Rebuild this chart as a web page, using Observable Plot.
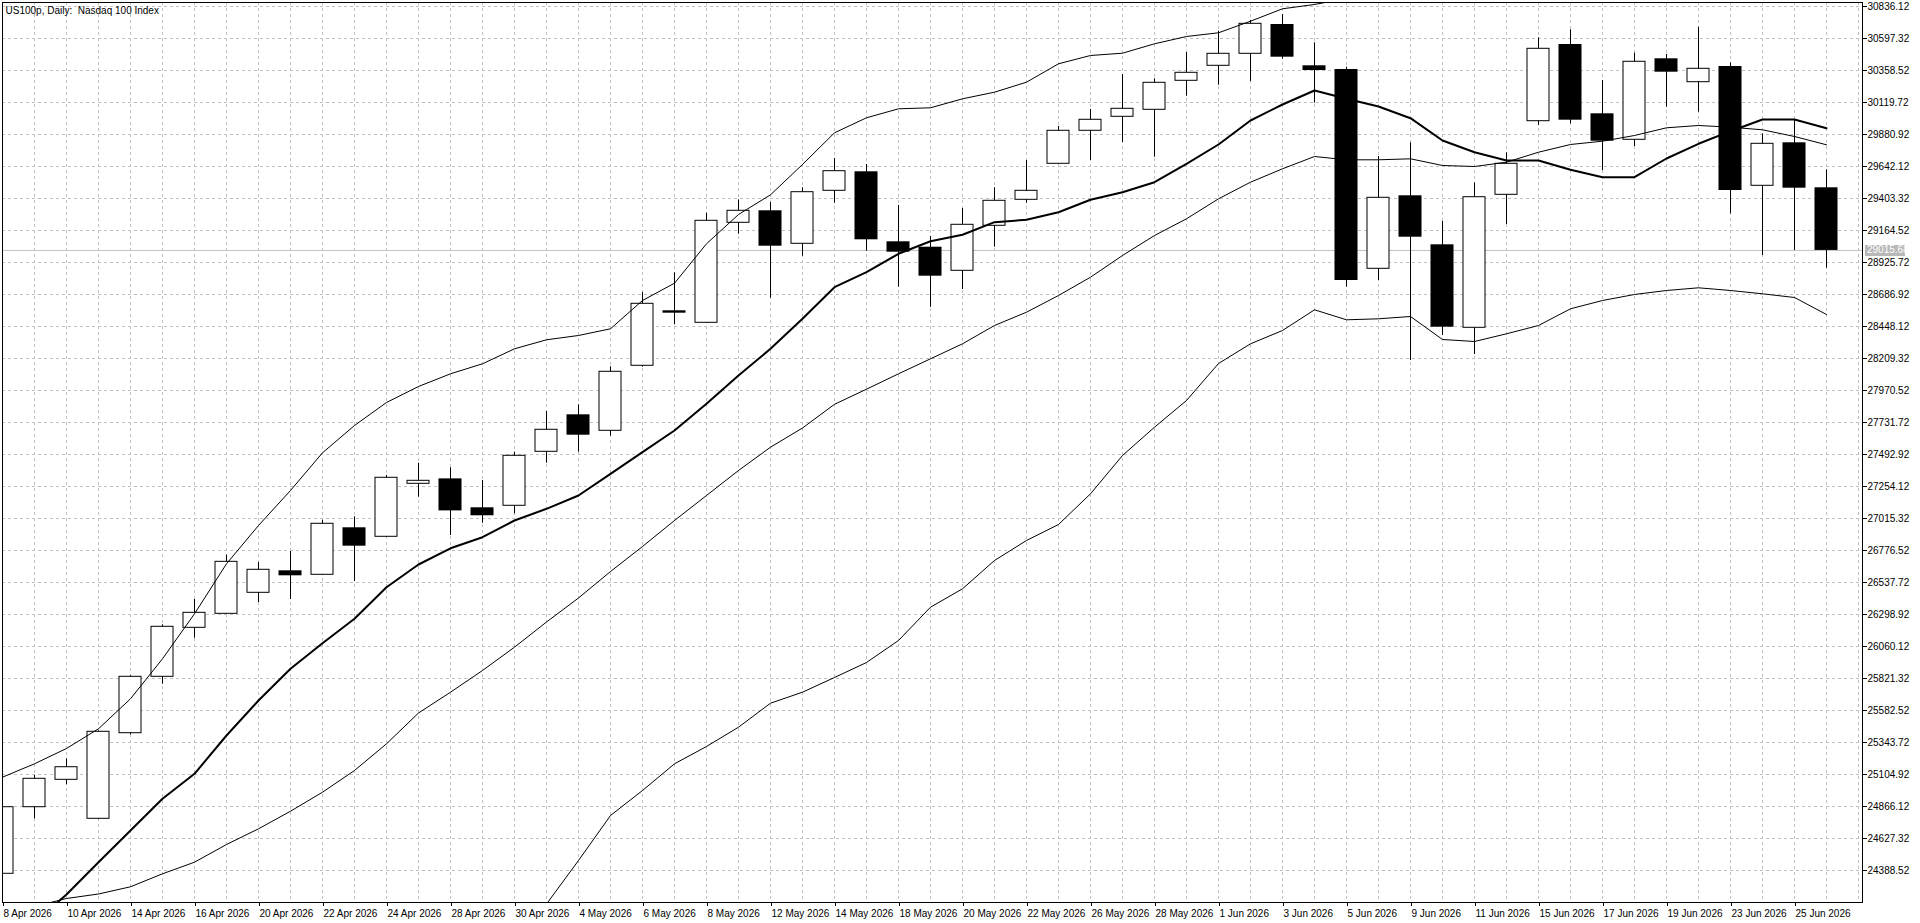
<!DOCTYPE html>
<html>
<head>
<meta charset="utf-8">
<script src="https://cdn.jsdelivr.net/npm/d3@7"></script>
<script src="https://cdn.jsdelivr.net/npm/@observablehq/plot@0.6"></script>
<style>
  html, body { margin: 0; padding: 0; background: #ffffff; }
  svg { display: block; }
</style>
</head>
<body>
<div id="chart"></div>
<script>
const title = "US100p, Daily:  Nasdaq 100 Index";
const year = "2026";

const dates = ["8 Apr","9 Apr","10 Apr","13 Apr","14 Apr","15 Apr","16 Apr","17 Apr","20 Apr","21 Apr","22 Apr","23 Apr","24 Apr","27 Apr","28 Apr","29 Apr","30 Apr",
  "1 May","4 May","5 May","6 May","7 May","8 May","11 May","12 May","13 May","14 May","15 May","18 May","19 May","20 May","21 May","22 May","25 May","26 May","27 May","28 May","29 May",
  "1 Jun","2 Jun","3 Jun","4 Jun","5 Jun","8 Jun","9 Jun","10 Jun","11 Jun","12 Jun","15 Jun","16 Jun","17 Jun","18 Jun","19 Jun","22 Jun","23 Jun","24 Jun","25 Jun","26 Jun"];

const opens = [24363.9,24860.9,25065.3,24774.4,25413.1,25834,26199.6,26304,26460.8,26625,26595.2,26946,26878.8,27274.2,27311,27095.2,27110.2,27513.1,27789.1,27669.8,28154.9,28565.3,28475.7,29222,29311.6,29065.3,29460.8,29602.6,29080.2,29039.9,28863.8,29199.6,29393.6,29662.3,29908.6,30013,30065.2,30281.7,30393.6,30483.1,30701.8,30393.6,30366,28878.7,29423.5,29057.8,28438.4,29430.9,29980.2,30552.5,30035.4,29841.4,30445.8,30271.2,30388.4,29498.1,29819,29483.2];
const highs = [24870,25097.5,25222,25430,25841.5,26222,26410.7,26741.5,26686.9,26769,27002.7,27028.1,27336.3,27427.9,27393.6,27298.9,27510.2,27813.9,27863.7,28147.4,28702,28848.8,29293.6,29393.6,29373.5,29483.3,29701.8,29657,29351.1,29119.8,29328.7,29483.2,29686.9,29940.6,30067.5,30328.7,30296.6,30492.9,30651.8,30731.7,30776.4,30565.2,30383.2,29716.8,29819,29231.7,29520.5,29744.4,30602.6,30662.3,30283.9,30487.6,30477.9,30681.6,30416,29886.2,29985.4,29617.5];
const lows = [24350,24774.4,25028,24768,25401,25778.7,26122,26300,26388.5,26410.7,26590,26545,26875,27174.2,26888.5,26980.4,27050.5,27427.9,27510.2,27629.5,28144.5,28460.8,28472,29136.9,28659.3,28972.7,29368.2,29010,28741.4,28592,28724.2,29039.9,29368.2,29660,29686.9,29821.2,29711.5,30166.7,30248.8,30276.4,30442.8,30114.5,28741.4,28791.4,28194.4,28381,28239.2,29209.3,29948.1,29960.8,29612.3,29791.4,30084.6,30047.3,29289,28978,29015,28883.8];
const closes = [24860.9,25072.8,25159.3,25423.6,25834,26207.1,26311.5,26692,26632.5,26587.7,26975.8,26808.7,27319.1,27296.6,27072.1,27035.6,27483.3,27677.3,27636.9,28110.1,28617.5,28547.5,29237,29311.6,29047.4,29450.4,29607.2,29095.1,29002.7,28823.5,29207.1,29386.2,29460.8,29908.6,29990.7,30072.7,30266.7,30341.4,30483.1,30707,30457.8,30358.5,28791.4,29408.5,29114.5,28442.9,29413,29662.3,30520.5,29987.7,29830.9,30423.5,30345.8,30371.2,29463,29811.5,29480.2,29015.68];

// Bollinger upper / middle / lower and the thick moving average (null = not visible)
const upperBand = [25084.8,25184.8,25299.0,25446.0,25669.9,25968.3,26304.1,26677.3,26963.1,27224.3,27505.6,27709.3,27881.0,28000.4,28095.1,28169.8,28281.7,28348.9,28381.0,28431.0,28642.2,28771.3,29065.3,29283.9,29430.9,29657.1,29893.6,30005.6,30072.7,30080.2,30147.3,30196.6,30271.2,30408.5,30470.5,30487.6,30557.8,30612.3,30639.9,30726.4,30819.0,30851.1,30895.8,
  null,null,null,null,null,null,null,null,null,null,null,null,null,null,null];
const middleBand = [null,24119.9,24179.6,24213.2,24267.0,24363.9,24450.5,24582.5,24699.7,24831.0,24972.8,25134.8,25334.0,25563.9,25719.1,25881.0,26054.9,26242.9,26422.1,26619.8,26806.4,27000.4,27187.0,27373.5,27547.4,27690.7,27867.5,27980.2,28095.1,28207.1,28319.0,28455.6,28554.8,28679.5,28816.0,28978.0,29127.2,29251.8,29401.1,29525.0,29625.0,29716.8,29692.1,29692.1,29699.6,29649.6,29642.1,29674.2,29748.8,29806.3,29830.9,29873.5,29930.9,29948.1,29935.4,29916.0,29866.0,29804.1];
const lowerBand = [null,null,null,null,null,null,null,null,null,null,null,null,null,null,null,null,
  23828.8,24138.5,24463.2,24799.0,24985.5,25184.8,25313.9,25457.9,25637.0,25719.1,25828.8,25940.7,26104.9,26353.4,26490.7,26701.9,26851.2,26970.6,27199.6,27485.5,27696.7,27895.9,28172.0,28319.0,28418.3,28572.7,28498.1,28505.6,28522.8,28351.1,28336.2,28393.6,28455.6,28580.2,28642.2,28687.0,28716.8,28736.9,28716.8,28692.1,28664.5,28537.7];
const fastMA = [null,24000.5,24209.4,24450.5,24687.0,24923.5,25110.1,25396.0,25657.2,25893.7,26084.8,26266.8,26502.7,26672.1,26792.9,26875.8,27000.4,27087.7,27187.0,27348.9,27510.1,27672.0,27871.3,28082.5,28281.7,28505.6,28741.4,28853.3,28990.7,29084.7,29132.4,29226.5,29244.4,29301.1,29393.6,29450.3,29525.0,29662.3,29806.3,29985.4,30104.8,30209.3,30147.3,30089.9,30002.6,29836.2,29748.8,29686.9,29686.9,29617.5,29562.3,29562.3,29701.8,29811.5,29905.6,29992.9,29992.9,29927.9];

const priceTicks = [30836.12,30597.32,30358.52,30119.72,29880.92,29642.12,29403.32,29164.52,28925.72,28686.92,28448.12,28209.32,27970.52,27731.72,27492.92,27254.12,27015.32,26776.52,26537.72,26298.92,26060.12,25821.32,25582.52,25343.72,25104.92,24866.12,24627.32,24388.52];
const yDomain = [24149.72, 30865.97];
const lastClose = closes[closes.length - 1];

const rows = dates.map((d, i) => ({
  i, date: d, open: opens[i], high: highs[i], low: lows[i], close: closes[i],
  upper: upperBand[i], middle: middleBand[i], lower: lowerBand[i], ma: fastMA[i]
}));
const bull = rows.filter(d => d.close >= d.open);
const bear = rows.filter(d => d.close < d.open);
const labelIdx = rows.filter(d => d.i % 2 === 0).map(d => d.i);
const gridIdx = d3.range(dates.length + 1);

const HALF_BLACK = 11.5 / 32;
const HALF_WHITE = 11 / 32;
const gridStyle = { stroke: "#c0c0c0", strokeOpacity: 1, strokeDasharray: "3,3" };

const chart = Plot.plot({
  width: 1920,
  height: 923,
  marginLeft: 2,
  marginRight: 58,
  marginTop: 2,
  marginBottom: 21,
  style: { fontFamily: "'Liberation Sans', Arial, sans-serif", fontSize: "10px", background: "#ffffff", color: "#000000", overflow: "visible" },
  x: { type: "linear", domain: [0, 58.125] },
  y: { type: "linear", domain: yDomain },
  marks: [
    Plot.gridX({ ticks: gridIdx, ...gridStyle }),
    Plot.gridY({ ticks: priceTicks, ...gridStyle }),
    Plot.ruleY([lastClose], { stroke: "#c0c0c0" }),
    Plot.ruleX(rows, { x: "i", y1: "low", y2: "high", stroke: "#000", clip: true }),
    Plot.rect(bear, { x1: d => d.i - HALF_BLACK, x2: d => d.i + HALF_BLACK, y1: "open", y2: "close", fill: "#000", clip: true }),
    Plot.rect(bull, { x1: d => d.i - HALF_WHITE, x2: d => d.i + HALF_WHITE, y1: "open", y2: "close", fill: "#fff", stroke: "#000", strokeWidth: 1, clip: true }),
    Plot.line(rows, { x: "i", y: "upper", stroke: "#000", strokeWidth: 1, clip: true }),
    Plot.line(rows, { x: "i", y: "middle", stroke: "#000", strokeWidth: 1, clip: true }),
    Plot.line(rows, { x: "i", y: "lower", stroke: "#000", strokeWidth: 1, clip: true }),
    Plot.line(rows, { x: "i", y: "ma", stroke: "#000", strokeWidth: 2, clip: true }),
    Plot.frame({ stroke: "#000" }),
    Plot.axisY({ ticks: priceTicks, anchor: "right", tickSize: 4, tickPadding: 1, tickFormat: d => d.toFixed(2), label: null }),
    Plot.axisX({ ticks: labelIdx, anchor: "bottom", tickSize: 4, tickPadding: 3, tickFormat: i => `${dates[i]} ${year}`, textAnchor: "start", dx: 1, label: null }),
    Plot.text([title], { frameAnchor: "top-left", text: d => d, dx: 3, dy: 4, textAnchor: "start", lineAnchor: "top" })
  ]
});

// last price marker on the price scale
const svg = d3.select(chart);
const yPos = chart.scale("y").apply(lastClose);
const xLeft = 1920 - 58 + 3;
svg.append("rect")
  .attr("x", xLeft).attr("y", Math.round(yPos) - 5)
  .attr("width", 40).attr("height", 11)
  .attr("fill", "#b8b8b8");
svg.append("text")
  .attr("x", xLeft + 2).attr("y", yPos).attr("dy", "0.35em")
  .attr("text-anchor", "start")
  .attr("fill", "#ffffff")
  .attr("font-family", "'Liberation Sans', Arial, sans-serif")
  .attr("font-size", "10px")
  .text(lastClose.toFixed(2));

document.getElementById("chart").appendChild(chart);
</script>
</body>
</html>
